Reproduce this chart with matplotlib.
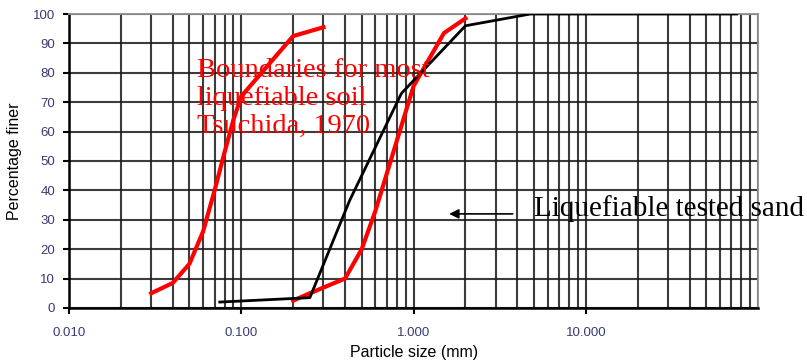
"""Grain size distribution: tested sand vs Tsuchida (1970) liquefaction bounds."""
import matplotlib
matplotlib.use("Agg")
import matplotlib.pyplot as plt
from matplotlib.ticker import FixedLocator, NullFormatter

# Tsuchida (1970) boundaries for most liquefiable soil
lower_size = [0.03, 0.04, 0.05, 0.06, 0.07, 0.08, 0.09, 0.1, 0.2, 0.3]
lower_pass = [5, 8.5, 15, 26, 40, 53, 64, 72, 92.5, 95.5]
upper_size = [0.2, 0.25, 0.4, 0.5, 0.6, 1.0, 1.5, 2.0]
upper_pass = [2.5, 5, 10, 20, 33, 75.5, 93.5, 98.5]

# Tested sand
sand_size = [0.075, 0.25, 0.425, 0.85, 2.0, 4.75, 75]
sand_pass = [2, 3.5, 36.5, 73, 96, 100, 100]

x_ticks = [0.01, 0.1, 1, 10]
x_tick_labels = ["0.010", "0.100", "1.000", "10.000"]
y_ticks = list(range(0, 101, 10))

TICK_COLOR = "#3a3a72"

plt.rcParams["font.family"] = ["Liberation Sans", "DejaVu Sans"]

fig = plt.figure(figsize=(8.07, 3.64), dpi=100)
ax = fig.add_axes([0.0855, 0.154, 0.854, 0.8075])

ax.set_xscale("log")
ax.set_xlim(0.01, 100)
ax.set_ylim(0, 100)

# grid: every minor decade step and every 10 %
minor = [m * 10.0 ** e for e in range(-2, 2) for m in range(1, 10)] + [100]
for xv in minor:
    ax.axvline(xv, color="#1a1a1a", lw=1.5, alpha=0.85, zorder=1)
for yv in y_ticks:
    ax.axhline(yv, color="#1a1a1a", lw=1.5, alpha=0.85, zorder=1)

ax.plot(lower_size, lower_pass, color="#ff0000", lw=3, zorder=3)
ax.plot(upper_size, upper_pass, color="#ff0000", lw=3, zorder=3)
ax.plot(sand_size, sand_pass, color="black", lw=2, zorder=4)

ax.xaxis.set_major_locator(FixedLocator(x_ticks))
ax.set_xticklabels(x_tick_labels)
ax.xaxis.set_minor_formatter(NullFormatter())
ax.tick_params(axis="x", which="minor", length=0)
ax.set_yticks(y_ticks)
ax.tick_params(axis="both", which="major", length=4, width=1.5, color="black",
               labelsize=9.5, labelcolor=TICK_COLOR)
ax.tick_params(axis="x", pad=10)
ax.tick_params(axis="y", pad=6)

for side in ("top", "right"):
    ax.spines[side].set_color("#909090")
    ax.spines[side].set_linewidth(1.3)
for side in ("left", "bottom"):
    ax.spines[side].set_color("black")
    ax.spines[side].set_linewidth(1.8)

ax.set_xlabel("Particle size (mm)", fontsize=11.5, labelpad=4)
ax.set_ylabel("Percentage finer", fontsize=11.5, labelpad=8)

ax.text(0.0555, 59.5, "Boundaries for most\nliquefiable soil\nTsuchida, 1970",
        color="#ff0000", fontsize=20.5, family="Liberation Serif",
        linespacing=1.15, va="baseline", ha="left", zorder=5)

ax.text(5.0, 33.7, "Liquefiable tested sand", color="black", fontsize=21,
        family="Liberation Serif", va="center", ha="left", zorder=5,
        clip_on=False)
ax.annotate("", xy=(1.55, 32), xytext=(3.9, 32),
            arrowprops=dict(arrowstyle="-|>", color="black", lw=1.2,
                            mutation_scale=14))

fig.savefig("out.png", dpi=100)
